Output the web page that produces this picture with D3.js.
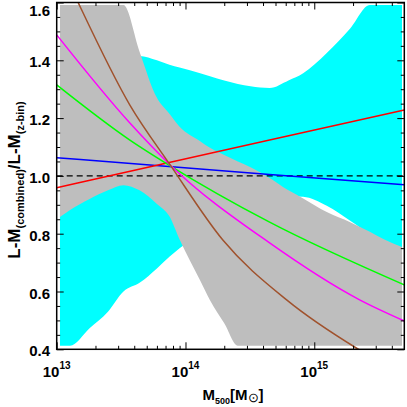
<!DOCTYPE html>
<html><head><meta charset="utf-8">
<script src="https://cdn.jsdelivr.net/npm/d3@7"></script>
<style>
html,body{margin:0;padding:0;background:#fff;}
svg{display:block;}
text{font-family:"Liberation Sans",Arial,Helvetica,sans-serif;font-weight:bold;fill:#000;}
</style></head>
<body><svg id="c" width="407" height="407"></svg>
<script>
// ---- data ----
const bandMass = [1.06e13,1.27e13,1.8e13,2.5e13,3.3e13,4.4e13,6e13,7.5e13,9e13,1.3e14,1.55e14,2e14,2.55e14,3.2e14,4.5e14,6.3e14,8.2e14,1.25e15,1.9e15,2.7e15,3.5e15,4.8e15];
const grayUpper = [1.591,1.591,1.591,1.591,1.591,1.43,1.27,1.215,1.17,1.12,1.097,1.072,1.05,1.03,0.993,0.95,0.922,0.875,0.84,0.807,0.78,0.754];
const grayLower = [0.858,0.882,0.92,0.95,0.968,0.95,0.903,0.86,0.78,0.638,0.57,0.49,0.4125,0.4125,0.4125,0.4125,0.4125,0.4125,0.4125,0.4125,0.4125,0.4125];
const cyanUpper = [1.2,1.25,1.3,1.35,1.39,1.415,1.40,1.385,1.375,1.355,1.345,1.33,1.318,1.31,1.304,1.33,1.355,1.425,1.51,1.591,1.591,1.591];
const cyanLower = [0.4125,0.4125,0.473,0.53,0.6,0.63,0.68,0.72,0.75,0.8,0.83,0.86,0.88,0.9,0.92,0.93,0.928,0.897,0.845,0.8,0.775,0.75];

const redMass = [1e13,4.5e14,5e15];
const redVal  = [0.959,1.124,1.228];
const blueMass = [1e13,4.5e14,5e15];
const blueVal  = [1.063,1.005,0.969];
const greenMass = [1e13,3.7e13,7.6e13,4.5e14,5e15];
const greenVal  = [1.315,1.124,1.035,0.84,0.623];
const magentaMass = [1e13,3.7e13,7.6e13,4.5e14,2.25e15,5e15];
const magentaVal  = [1.488,1.183,1.038,0.768,0.571,0.498];
const brownMass = [1e13,1.46e13,3.7e13,7.6e13,1.95e14,6.1e14,2.18e15,5e15];
const brownVal  = [1.76,1.602,1.245,1.038,0.778,0.571,0.401,0.31];

const yMajor = [0.4,0.6,0.8,1.0,1.2,1.4,1.6];
const yMinor = [0.45,0.5,0.55,0.65,0.7,0.75,0.85,0.9,0.95,1.05,1.1,1.15,1.25,1.3,1.35,1.45,1.5,1.55];
const xMajor = [1e13,1e14,1e15];
const xMajorExp = ["13","14","15"];
const xMinor = [2e13,3e13,4e13,5e13,6e13,7e13,8e13,9e13,2e14,3e14,4e14,5e14,6e14,7e14,8e14,9e14,2e15,3e15,4e15];
const refValue = 1.0;

// ---- layout ----
const L=56.7, R=404.3, T=2.5, B=349.3;
const svg = d3.select("#c");
const x = d3.scaleLog().domain([1e13,5e15]).range([L,R]);
const y = d3.scaleLinear().domain([0.4,1.6]).range([B,T]);

svg.append("defs").append("clipPath").attr("id","clip")
  .append("rect").attr("x",L).attr("y",T).attr("width",R-L).attr("height",B-T);
const g = svg.append("g").attr("clip-path","url(#clip)");

const band = (lo,hi)=>bandMass.map((m,i)=>({m,lo:lo[i],hi:hi[i]}));
const area = d3.area().x(d=>x(d.m)).y0(d=>y(d.lo)).y1(d=>y(d.hi)).curve(d3.curveMonotoneX);
g.append("path").datum(band(cyanLower,cyanUpper)).attr("d",area).attr("fill","#00ffff");
g.append("path").datum(band(grayLower,grayUpper)).attr("d",area).attr("fill","#bebebe");

const line = d3.line().x(d=>x(d[0])).y(d=>y(d[1])).curve(d3.curveMonotoneX);
const series = [
  [blueMass,blueVal,"#0000ff"],
  [redMass,redVal,"#ff0000"],
  [greenMass,greenVal,"#00ff00"],
  [magentaMass,magentaVal,"#ff00ff"],
  [brownMass,brownVal,"#a0522d"]
];
g.append("line").attr("x1",x(1e13)).attr("x2",x(5e15)).attr("y1",y(refValue)).attr("y2",y(refValue))
  .attr("stroke","#000").attr("stroke-width",1.3).attr("stroke-dasharray","6,4");
series.forEach(([ms,vs,c])=>{
  g.append("path").datum(ms.map((m,i)=>[m,vs[i]])).attr("d",line)
    .attr("fill","none").attr("stroke",c).attr("stroke-width",1.5);
});

// ---- axes ----
function styleAxis(sel){ sel.select(".domain").remove(); sel.selectAll("line").attr("stroke","#000").attr("stroke-width",1); sel.selectAll("text").remove(); }
svg.append("g").attr("transform",`translate(0,${B})`).call(d3.axisBottom(x).tickValues(xMajor).tickSize(-7)).call(styleAxis);
svg.append("g").attr("transform",`translate(0,${B})`).call(d3.axisBottom(x).tickValues(xMinor).tickSize(-3.5)).call(styleAxis);
svg.append("g").attr("transform",`translate(0,${T})`).call(d3.axisTop(x).tickValues(xMajor).tickSize(-7)).call(styleAxis);
svg.append("g").attr("transform",`translate(0,${T})`).call(d3.axisTop(x).tickValues(xMinor).tickSize(-3.5)).call(styleAxis);
svg.append("g").attr("transform",`translate(${L},0)`).call(d3.axisLeft(y).tickValues(yMajor).tickSize(-7)).call(styleAxis);
svg.append("g").attr("transform",`translate(${L},0)`).call(d3.axisLeft(y).tickValues(yMinor).tickSize(-3.5)).call(styleAxis);
svg.append("g").attr("transform",`translate(${R},0)`).call(d3.axisRight(y).tickValues(yMajor).tickSize(-7)).call(styleAxis);
svg.append("g").attr("transform",`translate(${R},0)`).call(d3.axisRight(y).tickValues(yMinor).tickSize(-3.5)).call(styleAxis);

svg.append("rect").attr("x",L).attr("y",T).attr("width",R-L).attr("height",B-T)
  .attr("fill","none").attr("stroke","#000").attr("stroke-width",1.5);

// tick labels
yMajor.forEach(v=>{
  svg.append("text").attr("x",50).attr("y",Math.max(y(v)+7,15.5))
    .attr("text-anchor","end").attr("font-size",15).text(v.toFixed(1));
});
xMajor.forEach((v,i)=>{
  const t = svg.append("text").attr("x",x(v)).attr("y",377).attr("text-anchor","middle").attr("font-size",15);
  t.append("tspan").text("10");
  t.append("tspan").attr("dy",-8).attr("font-size",10).text(xMajorExp[i]);
});

// axis titles
const xt = svg.append("text").attr("x",233).attr("y",400).attr("text-anchor","middle").attr("font-size",15);
xt.append("tspan").text("M");
xt.append("tspan").attr("dy",4).attr("font-size",9).text("500");
xt.append("tspan").attr("dy",-4).text("[M");
xt.append("tspan").attr("dy",2).attr("font-size",13).attr("font-weight","normal").text("\u2299");
xt.append("tspan").attr("dy",-2).text("]");

const yt = svg.append("text").attr("transform","translate(20,180) rotate(-90)").attr("text-anchor","middle").attr("font-size",17);
yt.append("tspan").text("L-M");
yt.append("tspan").attr("dy",4).attr("font-size",11).text("(combined)");
yt.append("tspan").attr("dy",-4).text("/L-M");
yt.append("tspan").attr("dy",4).attr("font-size",11).text("(z-bin)");
</script></body></html>
